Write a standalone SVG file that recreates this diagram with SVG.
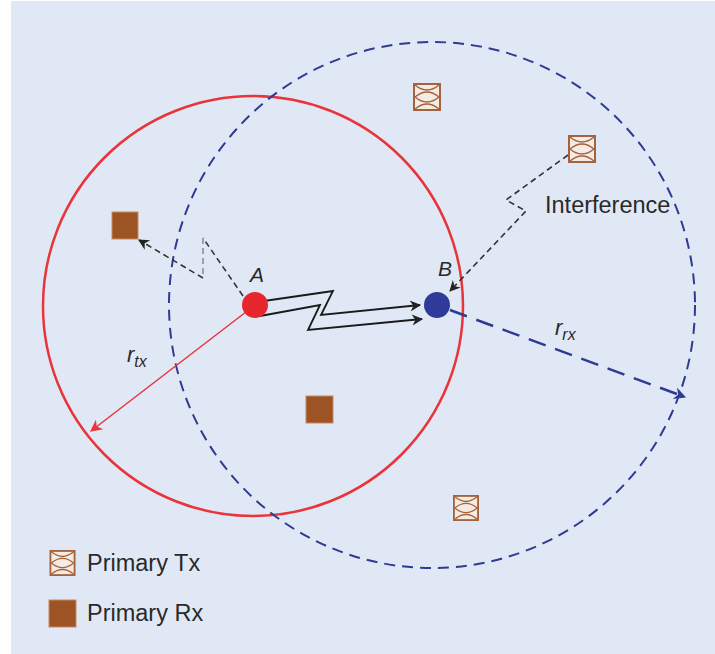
<svg xmlns="http://www.w3.org/2000/svg" width="715" height="654" viewBox="0 0 715 654">
<style>
.lbl{font-family:"Liberation Sans",Arial,sans-serif;fill:#2a2a2a;}
.it{font-style:italic;}
.rx{fill:#9c5424;stroke:#c8895c;stroke-width:1;}
</style>
<defs>
<symbol id="tx" viewBox="0 0 28 28">
<rect x="1" y="1" width="26" height="26" fill="#f3ebe4" stroke="#a5633c" stroke-width="2"/>
<path d="M2,2 Q14,12 26,2 M2,14 Q14,4 26,14 M2,14 Q14,24 26,14 M2,26 Q14,16 26,26" fill="none" stroke="#a5633c" stroke-width="1.4"/>
</symbol>
<marker id="ab" viewBox="0 0 10 10" refX="9" refY="5" markerWidth="17" markerHeight="11" markerUnits="userSpaceOnUse" orient="auto"><path d="M0,0 L10,5 L0,10 L3,5 Z" fill="#222"/></marker>
<marker id="ar" viewBox="0 0 10 10" refX="9" refY="5" markerWidth="16" markerHeight="12" markerUnits="userSpaceOnUse" orient="auto"><path d="M0,0 L10,5 L0,10 L3,5 Z" fill="#e8343a"/></marker>
<marker id="abl" viewBox="0 0 10 10" refX="9" refY="5" markerWidth="18" markerHeight="12" markerUnits="userSpaceOnUse" orient="auto"><path d="M0,0 L10,5 L0,10 L3,5 Z" fill="#2e3b92"/></marker>
</defs>
<rect x="0" y="0" width="715" height="654" fill="#ffffff"/>
<rect x="11" y="1" width="704" height="653" fill="#e1e8f5"/>

<g id="circles">
<circle cx="253" cy="306" r="210" fill="none" stroke="#e8343a" stroke-width="2.5"/>
<circle cx="432" cy="305" r="263" fill="none" stroke="#2e3b92" stroke-width="2" stroke-dasharray="11 7"/>
</g>

<g id="connectors">
<path d="M255,305 L91,431" fill="none" stroke="#e8343a" stroke-width="1.5" marker-end="url(#ar)"/>
<path d="M450,310 L685,397" fill="none" stroke="#2e3b92" stroke-width="2.5" stroke-dasharray="18 10" marker-end="url(#abl)"/>
<path d="M257,302 L333,291 L321,315 L420,305" fill="none" stroke="#1a1a1a" stroke-width="1.8" marker-end="url(#ab)"/>
<path d="M260,316 L320,305 L308,330 L422,319" fill="none" stroke="#1a1a1a" stroke-width="1.8" marker-end="url(#ab)"/>
<path d="M568,155 L506,200 L526,211 L450,291" fill="none" stroke="#333" stroke-width="1.6" stroke-dasharray="6 4" marker-end="url(#ab)"/>
<path d="M243,296 L203,238" fill="none" stroke="#333" stroke-width="1.6" stroke-dasharray="6 4"/>
<path d="M203,238 L203,278" fill="none" stroke="#999" stroke-width="1.8" stroke-dasharray="6 4"/>
<path d="M203,278 L139,240" fill="none" stroke="#333" stroke-width="1.6" stroke-dasharray="6 4" marker-end="url(#ab)"/>
</g>

<g id="nodeA">
<circle cx="255" cy="305" r="13" fill="#e8262e"/>
<text class="lbl it" x="257" y="282" font-size="21" text-anchor="middle">A</text>
</g>
<g id="nodeB">
<circle cx="437" cy="305" r="13" fill="#2e3b9a"/>
<text class="lbl it" x="445" y="276" font-size="21" text-anchor="middle">B</text>
</g>

<g id="tx1"><use href="#tx" x="413" y="83" width="28" height="28"/></g>
<g id="tx2"><use href="#tx" x="568" y="135" width="28" height="28"/></g>
<g id="tx3"><use href="#tx" x="453" y="494" width="26" height="28"/></g>
<g id="rx1"><rect class="rx" x="112" y="212" width="26" height="27"/></g>
<g id="rx2"><rect class="rx" x="306" y="396" width="27" height="27"/></g>

<g id="labels">
<text class="lbl" x="545" y="213" font-size="23.5">Interference</text>
<text class="lbl it" x="127" y="362" font-size="22">r<tspan font-size="16" dy="5">tx</tspan></text>
<text class="lbl it" x="555" y="335" font-size="22">r<tspan font-size="16" dy="5">rx</tspan></text>
</g>

<g id="legend">
<use href="#tx" x="49" y="550" width="27" height="26"/>
<text class="lbl" x="87" y="571" font-size="23.5">Primary Tx</text>
<rect class="rx" x="49" y="600" width="27" height="27"/>
<text class="lbl" x="87" y="621" font-size="23.5">Primary Rx</text>
</g>
</svg>
